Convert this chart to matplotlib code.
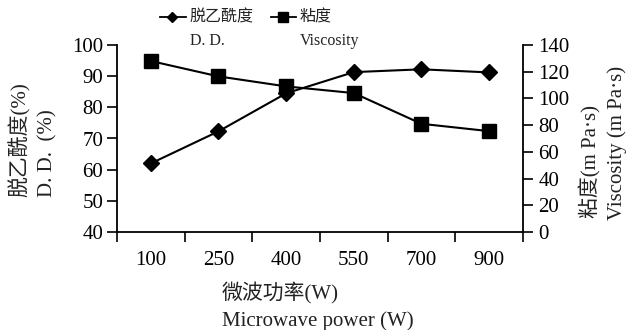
import matplotlib
matplotlib.use("Agg")
import matplotlib.pyplot as plt
from matplotlib.lines import Line2D
import numpy as np

plt.rcParams['font.family'] = ['Liberation Serif', 'Noto Sans CJK SC', 'DejaVu Sans']

categories = ['100', '250', '400', '550', '700', '900']
dd_values = [62, 72.3, 84.5, 91.3, 92.2, 91.2]
visc_values = [128, 116.5, 109, 104, 81, 75.5]

W, H = 630, 330
fig = plt.figure(figsize=(6.3, 3.3), dpi=100)
ax = fig.add_axes([117/W, 1-232/H, (523-117)/W, (232-45)/H])
ax2 = ax.twinx()

x = np.arange(len(categories))
ax.plot(x, dd_values, color='black', lw=1.5, marker='D', ms=8, mfc='black', mec='black', zorder=3)
ax2.plot(x, visc_values, color='black', lw=1.5, marker='s', ms=10, mfc='black', mec='black', zorder=3)

ax.set_xlim(-0.5, len(categories)-0.5)
ax.set_ylim(40, 100)
ax.set_yticks(np.arange(40, 101, 10))
ax2.set_ylim(0, 140)
ax2.set_yticks(np.arange(0, 141, 20))

ax.set_xticks(np.arange(-0.5, len(categories), 1.0))
ax.set_xticklabels([])
ax.set_xticks(x, minor=True)
ax.set_xticklabels(categories, minor=True)
ax.tick_params(axis='x', which='minor', length=0, pad=14, labelsize=15)
ax.tick_params(axis='x', which='major', length=7, width=1.2, direction='out')
ax.tick_params(axis='y', length=7, width=1.2, direction='out', labelsize=15, pad=3)
ax2.tick_params(axis='y', length=7, width=1.2, direction='out', labelsize=15, pad=4)

for a in (ax, ax2):
    a.spines['top'].set_visible(False)
    for s in ('left', 'right', 'bottom'):
        a.spines[s].set_linewidth(1.3)
ax.spines['right'].set_visible(False)
ax2.spines['left'].set_visible(False)
ax2.spines['bottom'].set_visible(False)

tc = '#222222'
# y labels (two lines each, bottom aligned)
fig.text(20/W, 1-197/H, '脱乙酰度(%)', rotation=90, ha='center', va='bottom', fontsize=15, color=tc)
fig.text(48/W, 1-197/H, 'D. D.  (%)', rotation=90, ha='center', va='bottom', fontsize=15, color=tc)
fig.text(590/W, 1-218/H, '粘度(m Pa·s)', rotation=90, ha='center', va='bottom', fontsize=15, color=tc)
fig.text(617/W, 1-220/H, 'Viscosity (m Pa·s)', rotation=90, ha='center', va='bottom', fontsize=15, color=tc)

# x label
fig.text(222/W, 1-293/H, '微波功率(W)', ha='left', va='center', fontsize=15, color=tc)
fig.text(222/W, 1-321/H, 'Microwave power (W)', ha='left', va='center', fontsize=15, color=tc)

# legend drawn manually
def handle(x0, x1, xm, y, marker, ms):
    fig.add_artist(Line2D([x0/W, x1/W], [1-y/H, 1-y/H], color='black', lw=1.3,
                          transform=fig.transFigure))
    fig.add_artist(Line2D([xm/W], [1-y/H], color='black', marker=marker, ms=ms,
                          transform=fig.transFigure, lw=0))

handle(160, 186, 172, 17, 'D', 5)
handle(271, 296, 283, 17, 's', 7)
fig.text(190/W, 1-17/H, '脱乙酰度', fontsize=11.5, va='center', ha='left', color=tc)
fig.text(190/W, 1-41/H, 'D. D.', fontsize=11.5, va='center', ha='left', color=tc)
fig.text(300/W, 1-17/H, '粘度', fontsize=11.5, va='center', ha='left', color=tc)
fig.text(300/W, 1-41/H, 'Viscosity', fontsize=11.5, va='center', ha='left', color=tc)

fig.savefig('out.png', dpi=100)
